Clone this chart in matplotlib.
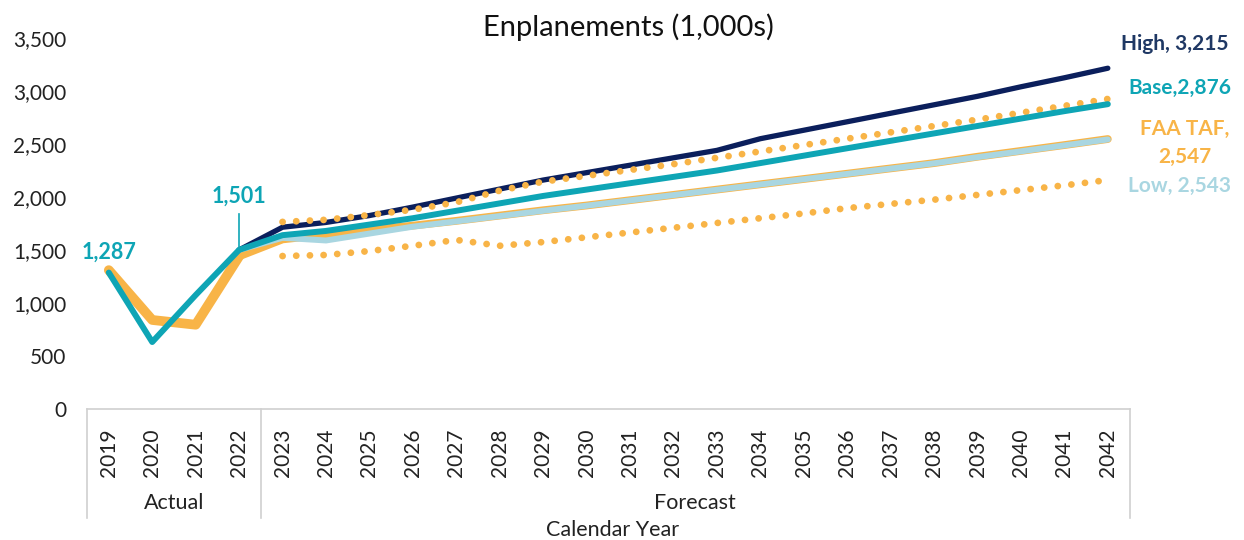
import matplotlib.pyplot as plt
import matplotlib.transforms as mtransforms

plt.rcParams['font.family'] = ['Lato', 'DejaVu Sans']

# ---- data (1,000s of enplanements) ----
years = [str(y) for y in range(2019, 2043)]
groups = ["Actual", "Forecast"]

base = [1287, 632, 1075, 1501, 1640, 1680, 1740, 1800, 1870, 1940, 2010, 2070,
        2130, 2190, 2250, 2320, 2390, 2460, 2530, 2600, 2670, 2740, 2810, 2876]
faa_taf = [1310, 840, 795, 1440, 1600, 1645, 1690, 1730, 1775, 1825, 1875, 1920,
           1970, 2020, 2070, 2120, 2170, 2220, 2270, 2320, 2380, 2435, 2490, 2547]
# scenarios start at the last actual year (2022)
high = [1501, 1715, 1760, 1825, 1905, 1990, 2075, 2160, 2230, 2300, 2370, 2440,
        2550, 2630, 2710, 2790, 2870, 2950, 3040, 3125, 3215]
low = [1501, 1615, 1590, 1655, 1720, 1770, 1820, 1870, 1918, 1968, 2018, 2068,
       2118, 2168, 2218, 2268, 2318, 2376, 2431, 2487, 2543]
taf_upper = [1765, 1785, 1830, 1880, 1950, 2060, 2145, 2200, 2255, 2310, 2370,
             2430, 2490, 2550, 2610, 2670, 2730, 2795, 2860, 2925]
taf_lower = [1443, 1453, 1490, 1540, 1595, 1540, 1575, 1620, 1665, 1710, 1755,
             1800, 1845, 1895, 1935, 1975, 2020, 2065, 2110, 2160]

NAVY = "#0B1F5C"
NAVY_TXT = "#1F3864"
TEAL = "#0EA5B5"
ORANGE = "#F8B447"
LIGHTBLUE = "#A9D6E1"
TXT = "#222222"

x_all = list(range(len(years)))
x_scen = x_all[3:]
x_band = x_all[4:]

fig = plt.figure(figsize=(12.44, 5.40), dpi=100)
ax = fig.add_axes([0.070, 0.2426, 0.838, 0.687])

# FAA TAF: thick in actuals, slightly thinner in forecast (under Low)
ax.plot(x_all[:4], faa_taf[:4], color=ORANGE, lw=7, solid_capstyle="round",
        solid_joinstyle="round", zorder=2)
ax.plot(x_all[3:], faa_taf[3:], color=ORANGE, lw=5.6, solid_capstyle="round",
        solid_joinstyle="round", zorder=2)
ax.plot(x_scen, low, color=LIGHTBLUE, lw=4.3, solid_capstyle="round",
        solid_joinstyle="round", zorder=3)
ax.plot(x_scen, high, color=NAVY, lw=3.8, solid_capstyle="round",
        solid_joinstyle="round", zorder=4)
for band in (taf_upper, taf_lower):
    ax.plot(x_band, band, color=ORANGE, lw=4.9, linestyle=(0, (0.01, 2.0)),
            dash_capstyle="round", zorder=5)
ax.plot(x_all, base, color=TEAL, lw=4.3, solid_capstyle="round",
        solid_joinstyle="round", zorder=6)

# data labels
ax.text(0, base[0] + 190, "1,287", color=TEAL, fontsize=15.5, fontweight="bold",
        ha="center", va="center")
ax.text(3, base[3] + 510, "1,501", color=TEAL, fontsize=15.5, fontweight="bold",
        ha="center", va="center")
ax.plot([3, 3], [base[3], base[3] + 340], color=TEAL, lw=1.2, zorder=6)

lab_x = 1175 / 1244
fig.text(lab_x, 1 - 44 / 540, "High, 3,215", color=NAVY_TXT, fontsize=15,
         fontweight="bold", ha="center", va="center")
fig.text(lab_x + 0.004, 1 - 88 / 540, "Base,2,876", color=TEAL, fontsize=15,
         fontweight="bold", ha="center", va="center")
fig.text(lab_x + 0.008, 1 - 129 / 540, "FAA TAF,", color=ORANGE, fontsize=15,
         fontweight="bold", ha="center", va="center")
fig.text(lab_x + 0.008, 1 - 157 / 540, "2,547", color=ORANGE, fontsize=15,
         fontweight="bold", ha="center", va="center")
fig.text(lab_x + 0.004, 1 - 186 / 540, "Low, 2,543", color=LIGHTBLUE, fontsize=15,
         fontweight="bold", ha="center", va="center")

# axes styling
ax.set_xlim(-0.5, len(years) - 0.5)
ax.set_ylim(0, 3500)
ax.set_yticks(range(0, 3501, 500))
ax.set_yticklabels([f"{v:,}" for v in range(0, 3501, 500)])
ax.tick_params(axis="y", length=0, labelsize=15, pad=15, labelcolor=TXT)
ax.set_xticks(x_all)
ax.set_xticklabels(years, rotation=90)
ax.tick_params(axis="x", length=0, labelsize=15, pad=14, labelcolor=TXT)
for side in ("left", "right", "top"):
    ax.spines[side].set_visible(False)
ax.spines["bottom"].set_color("#D0D0D0")
ax.spines["bottom"].set_linewidth(1.2)

# multi-level category axis separators
trans = mtransforms.blended_transform_factory(ax.transData, ax.transAxes)
depth = -(518 - 409) / 371
for xs in (-0.5, 3.5, len(years) - 0.5):
    ax.plot([xs, xs], [0, depth], transform=trans, color="#D0D0D0", lw=1.2,
            clip_on=False)
ax.text(1.5, -(503 - 409) / 371, groups[0], transform=trans, fontsize=15.5,
        ha="center", va="center", color=TXT)
ax.text(13.5, -(503 - 409) / 371, groups[1], transform=trans, fontsize=15.5,
        ha="center", va="center", color=TXT)
fig.text(613 / 1244, 1 - 530 / 540, "Calendar Year", fontsize=15.5,
         ha="center", va="center", color=TXT)

fig.text(628 / 1244, 1 - 27 / 540, "Enplanements (1,000s)", fontsize=21,
         ha="center", va="center", color="#111111")

fig.savefig("out.png", dpi=100)
